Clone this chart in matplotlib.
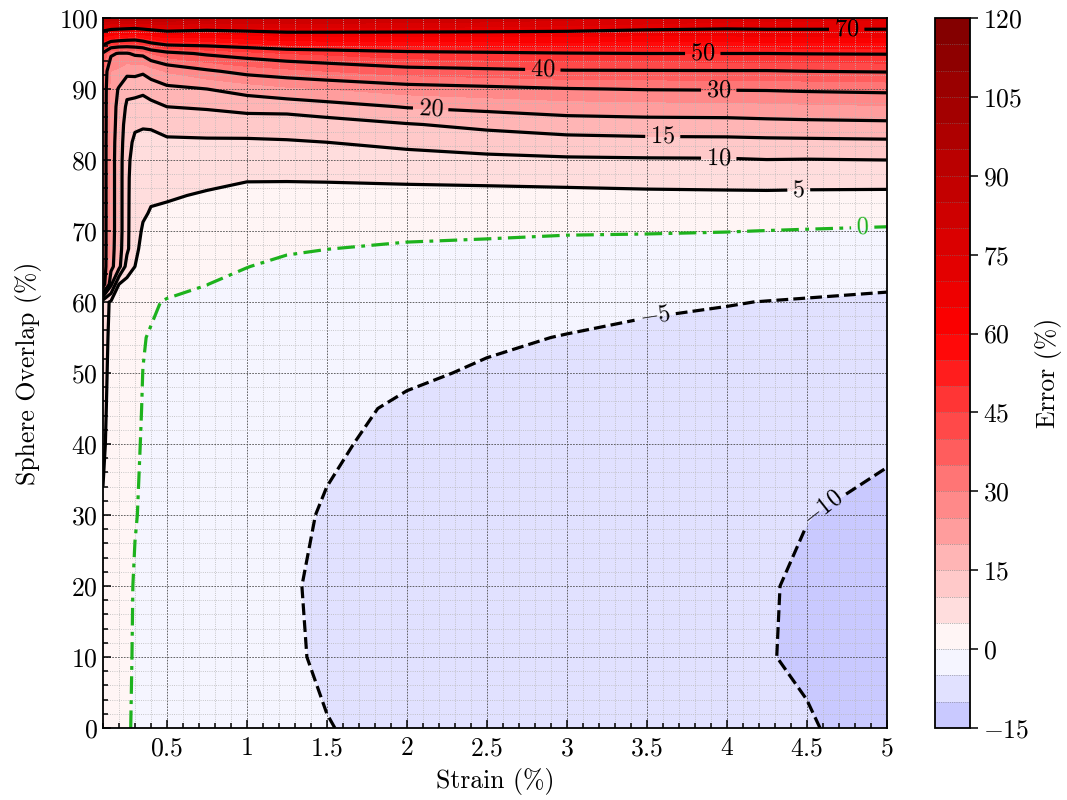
import matplotlib
matplotlib.use("Agg")
import matplotlib.pyplot as plt
import numpy as np
from matplotlib.colors import Normalize
from matplotlib.ticker import FuncFormatter, MultipleLocator

plt.rcParams.update({
    "font.family": "serif",
    "font.serif": ["cmr10"],
    "mathtext.fontset": "cm",
    "axes.formatter.use_mathtext": True,
    "font.size": 18.5,
})

# strain (%) of each column, sphere overlap (%) of each row
strain = [0.1, 0.15, 0.2, 0.25, 0.3, 0.35, 0.4, 0.5, 0.75, 1.0,
          1.25, 1.5, 2.0, 2.5, 3.0, 3.5, 4.0, 4.25, 4.5, 5.0]
overlap = [0, 10, 20, 30, 40, 45, 50, 55, 60, 62.5, 65, 67.5, 70,
           72.5, 75, 77.5, 80, 82.5, 85, 87.5, 90, 92.5, 95, 97.5, 100]

# error (%), one list per strain value (bottom -> top)
error = [
    [3.0, 3.5, 4.0, 4.6, 5.6, 5.9, 6.2, 6.5, 7.0, 34, 35, 35, 35, 35, 35, 35, 35, 35, 35, 35, 35, 35, 39, 62, 92],
    [2.2, 2.5, 2.8, 3.2, 3.6, 3.75, 3.9, 4.1, 4.4, 16, 21.5, 22, 22, 22, 22, 22, 22, 22, 22.5, 22.5, 23, 25, 31, 59, 90],
    [1.6, 1.8, 2.0, 2.3, 2.6, 2.75, 2.9, 3.1, 3.6, 5.0, 16.5, 17, 17.5, 17.5, 17.5, 17.5, 17.5, 17.8, 18, 18.5, 19.5, 24, 29.5, 58, 90],
    [0.4, 0.5, 0.7, 0.9, 1.3, 1.5, 1.7, 2.0, 2.6, 3.2, 8.0, 11, 11, 11, 11, 11, 11.2, 11.8, 12.8, 14.2, 16.2, 21.5, 29.5, 57, 90],
    [-0.45, -0.3, -0.25, 0.15, 0.4, 0.5, 0.6, 0.9, 1.8, 3.0, 5.0, 6.2, 6.8, 7.0, 7.2, 7.5, 8.0, 9.0, 10.8, 13.5, 16.5, 21.5, 31, 56, 90],
    [-0.9, -0.8, -0.75, -0.35, -0.2, -0.1, -0.02, 0.1, 1.2, 2.2, 3.0, 3.6, 4.5, 5.5, 5.9, 6.5, 7.5, 8.8, 10.4, 13.2, 16.0, 20.8, 31.5, 58, 90],
    [-1.2, -1.3, -1.35, -1.2, -0.95, -0.7, -0.4, -0.15, 0.3, 1.5, 2.3, 3.0, 3.7, 4.7, 5.5, 6.4, 7.4, 8.8, 10.5, 13.8, 17.0, 22.5, 35, 60, 90],
    [-1.8, -2.0, -2.1, -2.0, -1.8, -1.6, -1.4, -0.9, -0.2, 0.8, 1.7, 2.5, 3.3, 4.3, 5.4, 6.5, 7.7, 9.3, 11.6, 15.0, 18.6, 25.5, 38, 63, 90],
    [-2.6, -2.9, -3.0, -2.9, -2.6, -2.4, -2.2, -1.8, -1.0, 0.05, 1.3, 2.0, 2.7, 3.5, 4.6, 6.0, 7.5, 9.3, 12.3, 15.5, 20.0, 29.0, 41, 62, 88],
    [-3.6, -3.9, -4.0, -3.8, -3.5, -3.25, -3.0, -2.6, -2.0, -1.3, 0.1, 1.0, 1.8, 2.8, 4.0, 5.3, 7.0, 9.3, 12.5, 16.5, 22.0, 32.0, 43, 64, 87],
    [-4.3, -4.6, -4.7, -4.5, -4.1, -3.8, -3.5, -3.0, -2.4, -1.8, -1.1, 0.6, 1.5, 2.6, 3.9, 5.3, 7.2, 9.6, 12.4, 16.8, 24.0, 33.5, 45, 66, 86],
    [-4.9, -5.4, -5.5, -5.2, -4.7, -4.3, -3.9, -3.4, -2.7, -2.1, -1.4, 0.05, 1.2, 2.4, 3.8, 5.4, 7.6, 10.0, 13.0, 18.0, 25.0, 35.0, 46, 66, 86],
    [-5.9, -6.2, -6.3, -6.1, -5.6, -5.4, -4.6, -4.0, -3.3, -2.7, -1.9, -0.6, 1.0, 2.3, 3.8, 5.7, 8.2, 11.2, 14.7, 20.3, 27.3, 37.6, 48, 66, 85],
    [-6.5, -6.8, -6.9, -6.6, -6.1, -5.7, -5.3, -4.6, -3.8, -3.2, -2.3, -1.0, 0.8, 2.2, 3.9, 5.9, 8.8, 12.4, 16.2, 21.4, 28.5, 38.5, 48.8, 66, 84],
    [-7.0, -7.4, -7.4, -7.1, -6.5, -6.1, -5.7, -5.1, -4.1, -3.4, -2.5, -1.3, 0.4, 2.0, 3.9, 6.3, 9.3, 13.3, 17.4, 22.6, 29.7, 39.4, 49.6, 66, 82],
    [-7.8, -8.2, -8.1, -7.8, -7.1, -6.6, -6.1, -5.5, -4.6, -3.8, -2.8, -1.5, 0.3, 2.0, 4.1, 6.6, 9.5, 13.6, 17.9, 23.0, 30.3, 39.5, 50.0, 65, 80],
    [-8.6, -9.0, -8.9, -8.5, -7.7, -7.05, -6.4, -5.7, -4.9, -4.0, -2.9, -1.6, 0.1, 2.0, 4.2, 6.8, 9.6, 13.7, 18.0, 23.2, 30.5, 39.6, 50.0, 65, 78],
    [-9.3, -9.8, -9.7, -9.2, -8.2, -7.45, -6.7, -5.9, -5.05, -4.2, -3.0, -1.7, -0.05, 1.9, 4.2, 7.0, 9.9, 13.9, 18.3, 23.6, 30.6, 39.6, 50.0, 66, 77],
    [-9.6, -10.6, -10.6, -9.9, -8.7, -7.85, -7.0, -6.1, -5.2, -4.3, -3.1, -1.8, -0.2, 1.8, 4.1, 6.9, 9.8, 14.0, 18.5, 24.0, 31.0, 40.0, 50.2, 66, 77],
    [-12.0, -12.3, -11.8, -11.0, -9.5, -8.55, -7.6, -6.6, -5.5, -4.6, -3.4, -2.0, -0.5, 1.6, 4.0, 6.9, 10.0, 14.2, 18.8, 24.5, 31.5, 40.4, 50.4, 66.5, 76],
]

fill_levels = np.arange(-15, 125, 5)
line_levels = [-10, -5, 5, 10, 15, 20, 30, 40, 50, 70]

# where the contour labels sit
label_spots = [(4.75, 98.5), (3.85, 95.0), (2.85, 92.8), (3.95, 89.9), (2.15, 87.8),
               (3.6, 83.5), (3.95, 80.5), (4.45, 76.2), (3.55, 58.3), (4.6, 31.0)]
zero_spot = [(4.85, 70.6)]

Z = np.array(error).T

fig = plt.figure(figsize=(10.67, 8), dpi=100)
ax = fig.add_axes([0.0965, 0.09, 0.7345, 0.8875])
cax = fig.add_axes([0.876, 0.09, 0.033, 0.8875])

cf = ax.contourf(strain, overlap, Z, levels=fill_levels, cmap="seismic",
                 norm=Normalize(-120, 120))

styles = ["--" if lv < 0 else "-" for lv in line_levels]
cs = ax.contour(strain, overlap, Z, levels=line_levels, colors="k",
                linewidths=2.3, linestyles=styles)
cs0 = ax.contour(strain, overlap, Z, levels=[0], colors="#1db21d",
                 linewidths=2.3, linestyles=[(0, (5.5, 2, 1.2, 2))])


def fmt(v):
    return f"${v:g}$"


ax.clabel(cs, fmt=fmt, fontsize=17.5, manual=label_spots, inline=True)
ax.clabel(cs0, fmt=fmt, fontsize=17.5, manual=zero_spot, inline=True)

ax.set_xlim(0.1, 5)
ax.set_ylim(0, 100)
ax.xaxis.set_major_locator(MultipleLocator(0.5))
ax.xaxis.set_minor_locator(MultipleLocator(0.1))
ax.yaxis.set_major_locator(MultipleLocator(10))
ax.yaxis.set_minor_locator(MultipleLocator(2))
ax.xaxis.set_major_formatter(FuncFormatter(lambda v, p: f"${v:g}$"))
ax.yaxis.set_major_formatter(FuncFormatter(lambda v, p: f"${v:g}$"))
ax.tick_params(which="both", direction="in", top=False, right=False, width=1.1)
ax.tick_params(which="major", length=6)
ax.tick_params(which="minor", length=3.5)
ax.tick_params(axis="x", which="major", pad=6)
ax.grid(which="major", color="0.3", linestyle=(0, (2, 1.5)), linewidth=0.6)
ax.grid(which="minor", color="0.72", linestyle=":", linewidth=0.6)
for sp in ax.spines.values():
    sp.set_linewidth(1.3)

ax.set_xlabel("Strain (%)", labelpad=6)
ax.set_ylabel("Sphere Overlap (%)", labelpad=12)

cb = fig.colorbar(cf, cax=cax, ticks=np.arange(-15, 121, 15), drawedges=True)
cb.dividers.set_color("0.45")
cb.dividers.set_linewidth(0.5)
cb.dividers.set_linestyle(":")
cb.outline.set_linewidth(1.3)
cb.ax.tick_params(direction="out", length=6, width=1.1)
cb.set_label("Error (%)")

fig.savefig("out.png", dpi=100)
